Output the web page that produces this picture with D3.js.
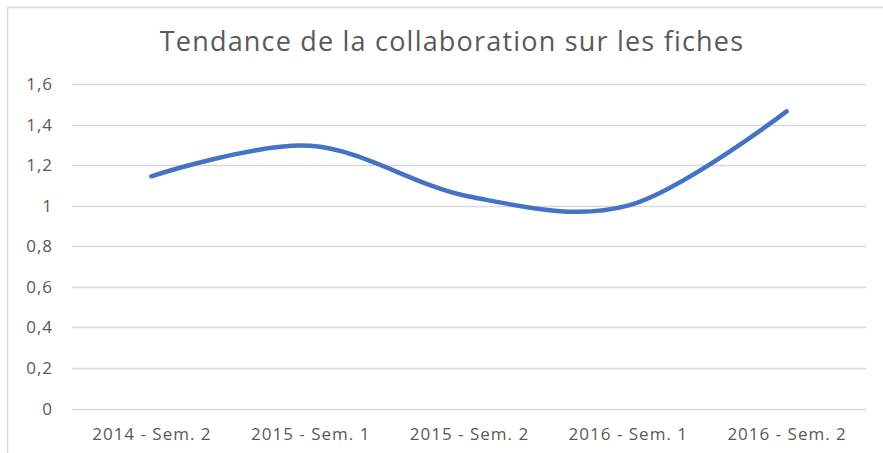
<!DOCTYPE html>
<html>
<head>
<meta charset="utf-8">
<script src="https://cdn.jsdelivr.net/npm/d3@7"></script>
<style>
  body { margin: 0; background: #fff; }
  svg { display: block; font-family: "Open Sans", "Noto Sans", sans-serif; }
</style>
</head>
<body>
<script>
var title = 'Tendance de la collaboration sur les fiches';
var categories = ['2014 - Sem. 2', '2015 - Sem. 1', '2015 - Sem. 2', '2016 - Sem. 1', '2016 - Sem. 2'];
var values = [1.145, 1.295, 1.045, 1.0, 1.465];
var yTicks = [0, 0.2, 0.4, 0.6, 0.8, 1, 1.2, 1.4, 1.6];

var width = 883;
var height = 453;
var plot = { left: 72, right: 866, top: 84, bottom: 408.5 };
var textColor = '#595959';

var svg = d3.select('body').append('svg')
  .attr('width', width)
  .attr('height', height);

// chart area border (only top and left visible in the crop)
svg.append('path')
  .attr('d', 'M7.5,' + height + 'V7.5H' + width)
  .attr('fill', 'none')
  .attr('stroke', '#d9d9d9')
  .attr('stroke-width', 1.5);

var x = d3.scaleBand()
  .domain(categories)
  .range([plot.left, plot.right]);

var y = d3.scaleLinear()
  .domain([0, 1.6])
  .range([plot.bottom, plot.top]);

function frNum(d) {
  return String(+d.toFixed(1)).replace('.', ',');
}

// gridlines
svg.append('g').selectAll('line').data(yTicks)
  .enter().append('line')
    .attr('x1', plot.left)
    .attr('x2', plot.right)
    .attr('y1', function(d) { return Math.round(y(d)) + 0.5; })
    .attr('y2', function(d) { return Math.round(y(d)) + 0.5; })
    .attr('stroke', '#d9d9d9')
    .attr('stroke-width', 1.3);

// y labels
svg.append('g').selectAll('text').data(yTicks)
  .enter().append('text')
    .attr('x', 53)
    .attr('y', function(d) { return y(d); })
    .attr('dy', '0.36em')
    .attr('text-anchor', 'end')
    .attr('fill', textColor)
    .style('font-size', '17px')
    .style('letter-spacing', '1px')
    .text(frNum);

// x labels
svg.append('g').selectAll('text').data(categories)
  .enter().append('text')
    .attr('x', function(d) { return x(d) + x.bandwidth() / 2 + 0.5; })
    .attr('y', 440)
    .attr('text-anchor', 'middle')
    .attr('fill', textColor)
    .style('font-size', '17px')
    .style('letter-spacing', '1px')
    .text(function(d) { return d; });

// series line, smoothed like the spreadsheet
var line = d3.line()
  .x(function(d, i) { return x(categories[i]) + x.bandwidth() / 2; })
  .y(function(d) { return y(d); })
  .curve(d3.curveCardinal.tension(0));

svg.append('path')
  .datum(values)
  .attr('d', line)
  .attr('fill', 'none')
  .attr('stroke', '#4472c4')
  .attr('stroke-width', 4.5)
  .attr('stroke-linecap', 'round');

// title
svg.append('text')
  .attr('x', 452)
  .attr('y', 51)
  .attr('text-anchor', 'middle')
  .attr('fill', textColor)
  .style('font-size', '27px')
  .style('letter-spacing', '1.2px')
  .text(title);
</script>
</body>
</html>
